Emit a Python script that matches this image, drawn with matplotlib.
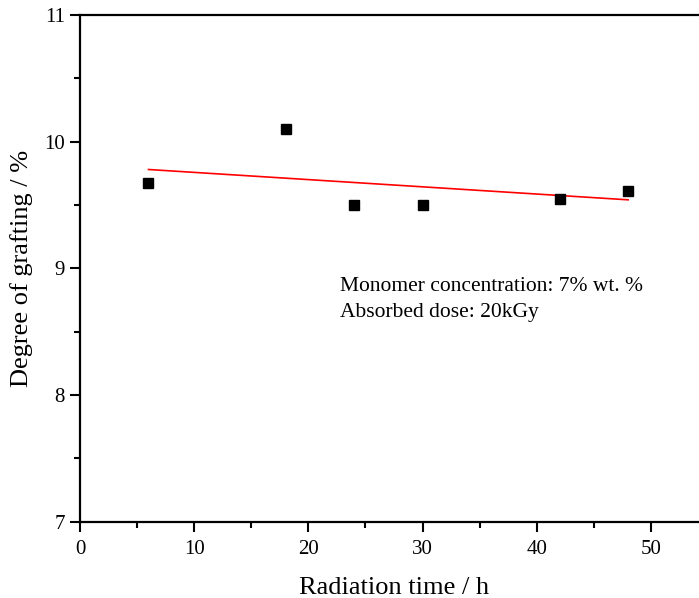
import numpy as np
import matplotlib
matplotlib.use("Agg")
import matplotlib.pyplot as plt
from matplotlib.ticker import MultipleLocator

# Degree of grafting versus radiation time
radiation_time = [6, 18, 24, 30, 42, 48]
degree_of_grafting = [9.67, 10.10, 9.50, 9.50, 9.55, 9.61]

x_ticks = [0, 10, 20, 30, 40, 50]
y_ticks = [7, 8, 9, 10, 11]

plt.rcParams["font.family"] = ["Liberation Serif", "DejaVu Serif"]

fig = plt.figure(figsize=(6.99, 5.98), dpi=100)
ax = fig.add_axes([0.1144, 0.1276, 0.8986, 0.8473])

ax.plot(radiation_time, degree_of_grafting, "s", color="black",
        markersize=7.8, zorder=3)

# Linear fit over the measured range
slope, intercept = np.polyfit(radiation_time, degree_of_grafting, 1)
fit_x = np.array([min(radiation_time), max(radiation_time)])
ax.plot(fit_x, slope * fit_x + intercept, color="red", linewidth=1.2, zorder=2)

ax.set_xlim(0, 55)
ax.set_ylim(7, 11)
ax.set_xticks(x_ticks)
ax.set_yticks(y_ticks)
ax.xaxis.set_minor_locator(MultipleLocator(5))
ax.yaxis.set_minor_locator(MultipleLocator(0.5))
ax.tick_params(which="major", direction="out", length=7, width=1.5,
               labelsize=15)
ax.tick_params(axis="x", which="major", pad=6)
ax.tick_params(axis="y", which="major", pad=4)
ax.tick_params(which="minor", direction="out", length=4, width=1.5)
for side in ("left", "bottom", "top", "right"):
    ax.spines[side].set_linewidth(1.6)

ax.set_xlabel("Radiation time / h", fontsize=19, labelpad=13)
ax.set_ylabel("Degree of grafting / %", fontsize=19, labelpad=8)

ax.text(22.8, 8.86, "Monomer concentration: 7% wt. %", fontsize=15.5,
        va="center", ha="left")
ax.text(22.8, 8.655, "Absorbed dose: 20kGy", fontsize=15.5,
        va="center", ha="left")

fig.savefig("out.png", dpi=100)
